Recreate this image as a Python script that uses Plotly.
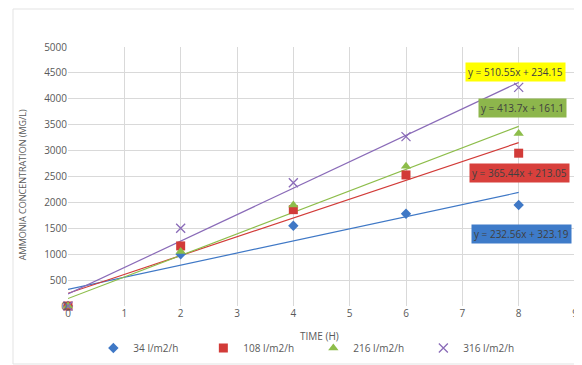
import numpy as np
import plotly.graph_objects as go

time_h = [0, 2, 4, 6, 8]
series_names = ["34 l/m2/h", "108 l/m2/h", "216 l/m2/h", "316 l/m2/h"]
s34 = [0, 1000, 1550, 1780, 1950]
s108 = [0, 1160, 1860, 2530, 2950]
s216 = [0, 1050, 1950, 2700, 3330]
s316 = [0, 1500, 2380, 3270, 4220]
equations = ["y = 232.56x + 323.19", "y = 365.44x + 213.05",
             "y = 413.7x + 161.1", "y = 510.55x + 234.15"]
x_ticks = list(range(0, 10))
y_ticks = list(range(0, 5001, 500))

colors = ["#3F78C6", "#D23B38", "#8DBD4A", "#8A6BB8"]
box_colors = ["#3E7BC9", "#D8403C", "#8DB64C", "#FFFF00"]
symbols = ["diamond", "square", "triangle-up", "x-thin"]
sizes = [8, 9, 9, 9]
label_pos = [(8.05, 1390), (8.01, 2568), (8.06, 3822), (7.94, 4517)]

fig = go.Figure()
all_series = [s34, s108, s216, s316]
for i, ys in enumerate(all_series):
    slope, intercept = np.polyfit(time_h, ys, 1)
    xt = np.array([0, 8])
    fig.add_trace(go.Scatter(x=xt, y=slope * xt + intercept, mode="lines",
                             line=dict(color=colors[i], width=1.2),
                             showlegend=False, hoverinfo="skip"))
for i, ys in enumerate(all_series):
    marker = dict(color=colors[i], symbol=symbols[i], size=sizes[i])
    if symbols[i] == "x-thin":
        marker["line"] = dict(color=colors[i], width=1.3)
    fig.add_trace(go.Scatter(x=time_h, y=ys, mode="markers", name=series_names[i],
                             marker=marker, cliponaxis=False))

for i, eq in enumerate(equations):
    fig.add_annotation(x=label_pos[i][0], y=label_pos[i][1], text=eq,
                       showarrow=False, bgcolor=box_colors[i],
                       font=dict(size=10, color="#404040", family="Open Sans"),
                       borderpad=2)

fig.add_annotation(text="TIME (H)", xref="paper", yref="paper", x=0.497, y=-0.115,
                   showarrow=False, yanchor="middle", xanchor="center",
                   font=dict(size=10, color="#595959", family="Open Sans"))
fig.add_annotation(text="AMMONIA CONCENTRATION (MG/L)", xref="paper", yref="paper",
                   x=-0.091, y=0.47, textangle=-90, showarrow=False,
                   xanchor="center", yanchor="middle",
                   font=dict(size=9, color="#595959", family="Open Sans"))

fig.add_shape(type="rect", xref="paper", yref="paper",
              x0=(13 - 68) / 507, x1=(581 - 68) / 507,
              y0=(306 - 364) / 259, y1=(306 - 9) / 259,
              line=dict(color="#E3E3E3", width=1))

# page body has an 8px margin: figure drawn at (8, 8)
fig.update_layout(
    width=574, height=357,
    margin=dict(l=60, r=7, t=39, b=59, autoexpand=False),
    paper_bgcolor="white", plot_bgcolor="white",
    font=dict(family="Open Sans", size=10, color="#595959"),
    showlegend=True,
    legend=dict(orientation="h", x=0.05, y=-0.162, xanchor="left", yanchor="middle",
                entrywidth=65, entrywidthmode="pixels",
                font=dict(size=10, color="#595959"), tracegroupgap=0,
                itemwidth=30, bgcolor="rgba(0,0,0,0)"),
    xaxis=dict(range=[0, 9], tickvals=x_ticks, showgrid=True, gridcolor="#D9D9D9",
               zeroline=False, showline=False, ticks="", tickfont=dict(size=10),
               automargin=False),
    yaxis=dict(range=[0, 5000], tickvals=y_ticks, showgrid=True, gridcolor="#D9D9D9",
               zeroline=False, showline=False, ticks="", tickfont=dict(size=10),
               automargin=False),
)

fig.write_html("out.html")
